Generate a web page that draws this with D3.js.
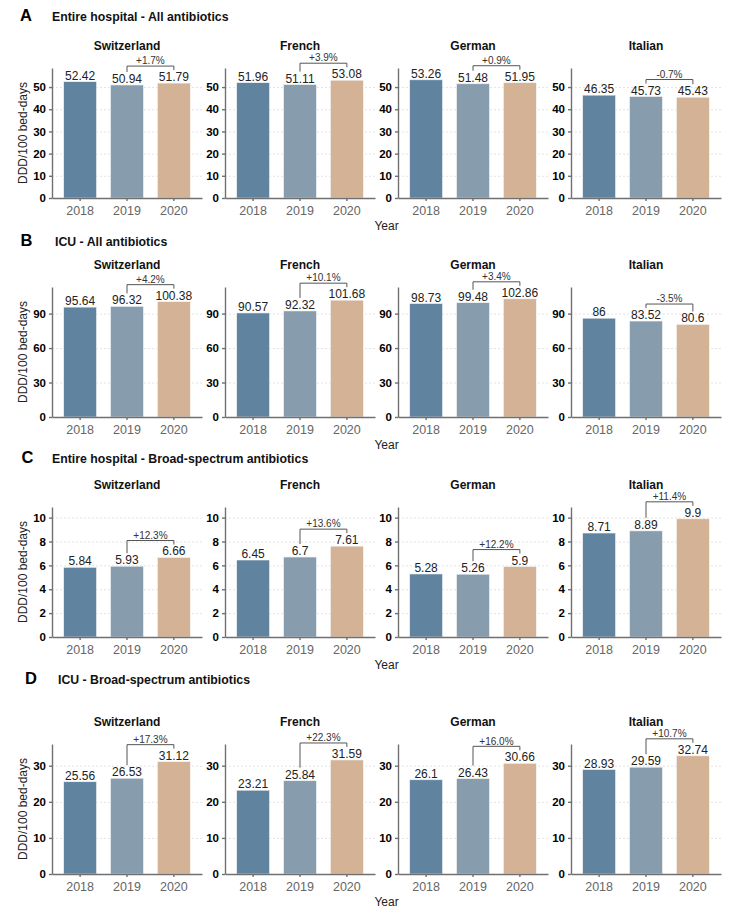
<!DOCTYPE html>
<html>
<head>
<meta charset="utf-8">
<script src="https://cdn.jsdelivr.net/npm/d3@7"></script>
<style>
  body { margin: 0; background: #fff; }
  svg text { font-family: 'Liberation Sans', Arial, sans-serif; }
  .axis .domain, .axis .tick line { stroke: #707070; stroke-width: 1.4; }
  .grid .tick line { stroke: #dcdcdc; stroke-width: 0.8; stroke-dasharray: 2,2; }
  .grid .domain { display: none; }
</style>
</head>
<body>
<svg id="chart" width="732" height="916"></svg>
<script>
const years = ['2018', '2019', '2020'];
const regions = ['Switzerland', 'French', 'German', 'Italian'];
const panelLetters = ['A', 'B', 'C', 'D'];
const panelTitles = [
  'Entire hospital - All antibiotics',
  'ICU - All antibiotics',
  'Entire hospital - Broad-spectrum antibiotics',
  'ICU - Broad-spectrum antibiotics'
];

// DDD/100 bed-days, one row per region (2018, 2019, 2020)
const entireAll = [
  [52.42, 50.94, 51.79],
  [51.96, 51.11, 53.08],
  [53.26, 51.48, 51.95],
  [46.35, 45.73, 45.43]
];
const icuAll = [
  [95.64, 96.32, 100.38],
  [90.57, 92.32, 101.68],
  [98.73, 99.48, 102.86],
  [86, 83.52, 80.6]
];
const entireBroad = [
  [5.84, 5.93, 6.66],
  [6.45, 6.7, 7.61],
  [5.28, 5.26, 5.9],
  [8.71, 8.89, 9.9]
];
const icuBroad = [
  [25.56, 26.53, 31.12],
  [23.21, 25.84, 31.59],
  [26.1, 26.43, 30.66],
  [28.93, 29.59, 32.74]
];

// 2019 -> 2020 change labels
const changeEntireAll = ['+1.7%', '+3.9%', '+0.9%', '-0.7%'];
const changeIcuAll = ['+4.2%', '+10.1%', '+3.4%', '-3.5%'];
const changeEntireBroad = ['+12.3%', '+13.6%', '+12.2%', '+11.4%'];
const changeIcuBroad = ['+17.3%', '+22.3%', '+16.0%', '+10.7%'];

const ticksEntireAll = [0, 10, 20, 30, 40, 50];
const ticksIcuAll = [0, 30, 60, 90];
const ticksEntireBroad = [0, 2, 4, 6, 8, 10];
const ticksIcuBroad = [0, 10, 20, 30];

const panelValues = [entireAll, icuAll, entireBroad, icuBroad];
const panelChanges = [changeEntireAll, changeIcuAll, changeEntireBroad, changeIcuBroad];
const panelTicks = [ticksEntireAll, ticksIcuAll, ticksEntireBroad, ticksIcuBroad];

const COLORS = ['#6083a0', '#879dae', '#d3b295'];
const LEFT = 52;
const FACET_WIDTH = 150;
const FACET_STEP = 173;
const PLOT_HEIGHT = 130;
// header position and plot top of each row
const rows = [
  { letterX: 20, titleX: 52, titleY: 21, top: 68 },
  { letterX: 20.5, titleX: 55, titleY: 246, top: 287 },
  { letterX: 21.5, titleX: 52, titleY: 463, top: 507 },
  { letterX: 25, titleX: 58, titleY: 684, top: 744 }
];

const svg = d3.select('#chart');

function drawRow(r) {
  const { letterX, titleX, titleY, top } = rows[r];
  const bottom = top + PLOT_HEIGHT;
  const values = panelValues[r];
  const g = svg.append('g');

  // 行标题
  g.append('text')
    .attr('x', letterX).attr('y', titleY)
    .attr('font-size', 16.5).attr('font-weight', 'bold')
    .text(panelLetters[r]);
  g.append('text')
    .attr('x', titleX).attr('y', titleY)
    .attr('font-size', 12.3).attr('font-weight', 'bold')
    .attr('fill', '#111')
    .text(panelTitles[r]);

  let yMax = d3.max(values.flat()) * 1.1;
  let scaleY = d3.scaleLinear().domain([0, yMax]).range([bottom, top]);

  regions.forEach((region, i) => {
    let x0 = LEFT + i * FACET_STEP;
    let scaleX = d3.scaleBand()
      .domain(years)
      .range([x0, x0 + FACET_WIDTH])
      .paddingInner(0.3)
      .paddingOuter(0.25);
    let cx = d => scaleX(d) + scaleX.bandwidth() / 2;

    // 辅助线
    g.append('g')
      .attr('class', 'grid')
      .attr('transform', `translate(${x0}, 0)`)
      .call(d3.axisLeft(scaleY).tickValues(panelTicks[r]).tickSize(-FACET_WIDTH).tickFormat(''));

    // 分面标题
    g.append('text')
      .attr('x', x0 + FACET_WIDTH / 2).attr('y', top - 18)
      .attr('text-anchor', 'middle')
      .attr('font-size', 12).attr('font-weight', 'bold')
      .attr('fill', '#111')
      .text(region);

    // 柱子
    g.selectAll(null)
      .data(values[i])
      .join('rect')
      .attr('x', (d, k) => scaleX(years[k]))
      .attr('y', d => scaleY(d))
      .attr('width', scaleX.bandwidth())
      .attr('height', d => bottom - scaleY(d))
      .attr('fill', (d, k) => COLORS[k])
      .attr('stroke', '#f4f4f4')
      .attr('stroke-width', 0.6);

    // 数值标签
    g.selectAll(null)
      .data(values[i])
      .join('text')
      .attr('x', (d, k) => cx(years[k]))
      .attr('y', d => scaleY(d) - 2)
      .attr('text-anchor', 'middle')
      .attr('font-size', 12)
      .attr('fill', '#222')
      .text(d => d);

    // 2019-2020 bracket
    let v1 = values[i][1], v2 = values[i][2];
    let yb = scaleY(Math.max(v1, v2)) - 17;
    let xa = cx(years[1]), xb = cx(years[2]);
    g.append('path')
      .attr('d', `M${xa},${scaleY(v1) - 13}V${yb}H${xb}V${scaleY(v2) - 13}`)
      .attr('fill', 'none')
      .attr('stroke', '#555')
      .attr('stroke-width', 1);
    g.append('text')
      .attr('x', (xa + xb) / 2).attr('y', yb - 1.8)
      .attr('text-anchor', 'middle')
      .attr('font-size', 10)
      .attr('fill', '#333')
      .text(panelChanges[r][i]);

    // 数轴
    let axisY = g.append('g')
      .attr('class', 'axis')
      .attr('transform', `translate(${x0}, 0)`)
      .call(d3.axisLeft(scaleY).tickValues(panelTicks[r]).tickSize(3).tickSizeOuter(0).tickPadding(3));
    axisY.selectAll('.tick text')
      .attr('font-size', 11.5).attr('font-weight', 'bold').attr('fill', '#000');

    let axisX = g.append('g')
      .attr('class', 'axis')
      .attr('transform', `translate(0, ${bottom})`)
      .call(d3.axisBottom(scaleX).tickSize(3).tickSizeOuter(0).tickPadding(5));
    axisX.selectAll('.tick text')
      .attr('font-size', 12.5).attr('fill', '#666');
  });

  // 坐标轴标题
  g.append('text')
    .attr('transform', `translate(26.5, ${top + PLOT_HEIGHT / 2}) rotate(-90)`)
    .attr('text-anchor', 'middle')
    .attr('font-size', 12)
    .attr('fill', '#222')
    .text('DDD/100 bed-days');
  g.append('text')
    .attr('x', (LEFT + LEFT + 3 * FACET_STEP + FACET_WIDTH) / 2)
    .attr('y', bottom + 32)
    .attr('text-anchor', 'middle')
    .attr('font-size', 12)
    .attr('fill', '#222')
    .text('Year');
}

rows.forEach((row, r) => drawRow(r));
</script>
</body>
</html>
